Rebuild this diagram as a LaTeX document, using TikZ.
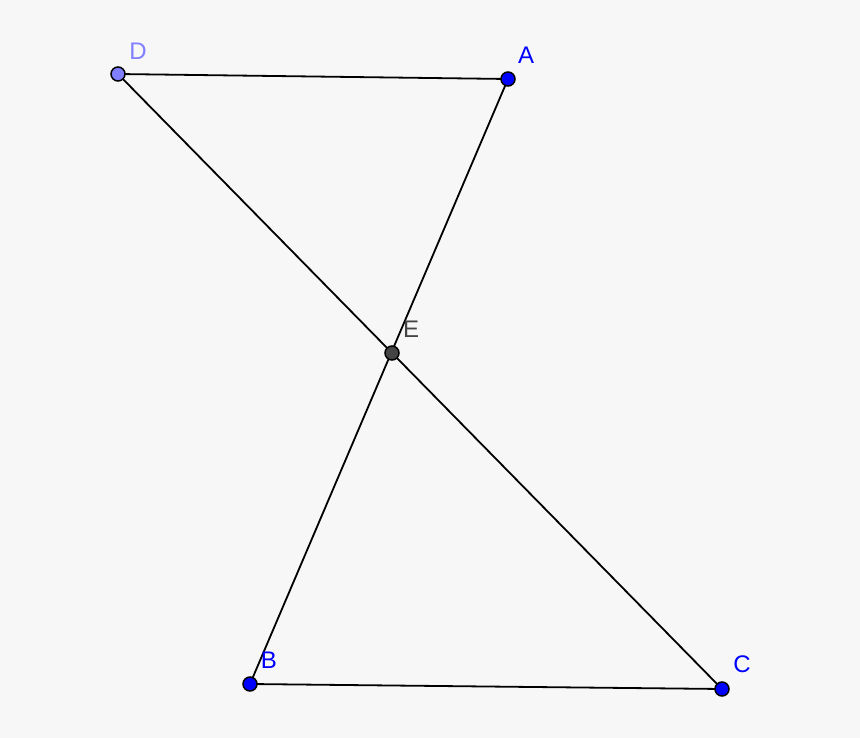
\documentclass[tikz,border=0pt]{standalone}
\usepackage{fontspec}
\setmainfont{Liberation Sans}
\definecolor{bg}{HTML}{F7F7F7}
\definecolor{dcol}{HTML}{7F7FFF}
\definecolor{ecol}{HTML}{444444}
\begin{document}
\begin{tikzpicture}[x=1pt,y=-1pt,
  seg/.style={draw=black,line width=1.8pt},
  pt/.style={circle,draw=black,line width=1.5pt,minimum size=14pt,inner sep=0pt},
  lab/.style={font=\fontsize{24}{24}\selectfont,inner sep=0pt}]
\fill[bg] (0,0) rectangle (860,738);
\useasboundingbox (0,0) rectangle (860,738);
\coordinate (D) at (118,74);
\coordinate (A) at (508,79);
\coordinate (E) at (392,353);
\coordinate (B) at (250,684);
\coordinate (C) at (722,689);
\draw[seg] (D) -- (A);
\draw[seg] (D) -- (C);
\draw[seg] (A) -- (B);
\draw[seg] (B) -- (C);
\node[pt,fill=dcol] (pD) at (D) {};
\node[pt,fill=blue] (pA) at (A) {};
\node[pt,fill=ecol] (pE) at (E) {};
\node[pt,fill=blue] (pB) at (B) {};
\node[pt,fill=blue] (pC) at (C) {};
\node[lab,text=dcol] (lD) at (138,51) {D};
\node[lab,text=blue] (lA) at (526,55) {A};
\node[lab,text=ecol] (lE) at (411,329) {E};
\node[lab,text=blue] (lB) at (269,660) {B};
\node[lab,text=blue] (lC) at (742,664) {C};
\end{tikzpicture}
\end{document}
